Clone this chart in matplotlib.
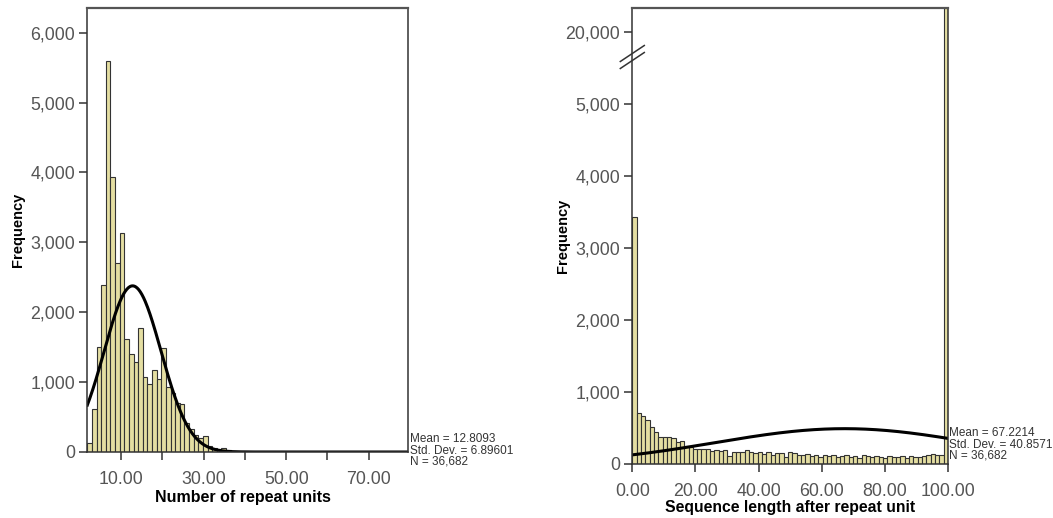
import numpy as np
import matplotlib
matplotlib.use("Agg")
import matplotlib.pyplot as plt
from matplotlib.ticker import FuncFormatter, FixedLocator

# ---------------- data ----------------
# Left histogram: number of repeat units
repeat_bin_start = 1.84
repeat_bin_width = 1.12
repeat_counts = [134, 620, 1500, 2385, 5600, 3930, 2700, 3140, 1610, 1395,
                 1290, 1780, 1075, 970, 1180, 1040, 1495, 930, 840, 700,
                 690, 420, 330, 240, 200, 225, 80, 55, 50, 55,
                 25, 15, 12, 10, 8, 6, 5, 4, 3, 3, 2, 2, 1, 1]
repeat_mean, repeat_sd, repeat_n = 12.8093, 6.89601, 36682
repeat_xlim = (1.84, 79.5)

# Right histogram: sequence length after repeat unit
seq_bins = 73
seq_range = (0.0, 100.0)
seq_counts = [3430, 710, 664, 608, 507, 440, 380, 370, 370, 360,
              300, 320, 250, 240, 210, 215, 215, 205, 185, 195,
              185, 200, 115, 170, 170, 160, 195, 160, 150, 170,
              140, 160, 125, 150, 155, 100, 160, 150, 120, 130,
              140, 110, 125, 100, 130, 105, 120, 95, 115, 120,
              100, 110, 90, 120, 105, 95, 115, 100, 90, 110,
              100, 95, 115, 90, 105, 100, 95, 110, 125, 135,
              130, 120, 22000]
seq_mean, seq_sd, seq_n = 67.2214, 40.8571, 36682

left_yticks = [0, 1000, 2000, 3000, 4000, 5000, 6000]
left_xticks = [10, 20, 30, 40, 50, 60, 70]
left_xticklabels = ["10.00", "", "30.00", "", "50.00", "", "70.00"]
right_yticks = [0, 1000, 2000, 3000, 4000, 5000, 20000]
right_xticks = [0, 20, 40, 60, 80, 100]
right_xticklabels = ["0.00", "20.00", "40.00", "60.00", "80.00", "100.00"]

# ---------------- style ----------------
plt.rcParams["font.family"] = ["Liberation Sans", "DejaVu Sans"]
BAR_FACE = "#e4dea2"
BAR_EDGE = "#333333"
TICK_GREY = "#555555"
W, H = 1053, 518

fig = plt.figure(figsize=(W / 100, H / 100), dpi=100)


def px_axes(x0, x1, ytop, ybot):
    return fig.add_axes([x0 / W, 1 - ybot / H, (x1 - x0) / W, (ybot - ytop) / H])


def normal_curve(x, mean, sd, n, width):
    return n * width / (sd * np.sqrt(2 * np.pi)) * np.exp(-0.5 * ((x - mean) / sd) ** 2)


def style_axes(ax):
    for s in ax.spines.values():
        s.set_color("#333333")
        s.set_linewidth(1.1)
    ax.spines["top"].set_color("#555555")
    ax.spines["top"].set_linewidth(1.6)
    ax.tick_params(axis="both", direction="out", length=5.8, width=1.1,
                   color="#333333", labelcolor=TICK_GREY, labelsize=12.8)
    ax.tick_params(axis="x", pad=8.2)
    ax.tick_params(axis="y", pad=3)
    ax.yaxis.set_major_formatter(FuncFormatter(lambda v, p: f"{int(round(v)):,}"))


# ---------------- left histogram ----------------
ax1 = px_axes(87.3, 408, 8, 452)
edges1 = repeat_bin_start + repeat_bin_width * np.arange(len(repeat_counts))
ax1.bar(edges1, repeat_counts, width=repeat_bin_width, align="edge",
        color=BAR_FACE, edgecolor=BAR_EDGE, linewidth=0.8)
xs1 = np.linspace(*repeat_xlim, 400)
ax1.plot(xs1, normal_curve(xs1, repeat_mean, repeat_sd, repeat_n, repeat_bin_width),
         color="black", lw=2.2)
ax1.set_xlim(*repeat_xlim)
ax1.set_ylim(0, 6352)
ax1.set_yticks(left_yticks)
ax1.set_xticks(left_xticks)
ax1.set_xticklabels(left_xticklabels)
style_axes(ax1)
ax1.set_ylabel("Frequency", fontsize=10.5, fontweight="bold")
ax1.yaxis.set_label_coords(-0.194, 0.5)
ax1.set_xlabel("Number of repeat units", fontsize=11.5, fontweight="bold")
ax1.xaxis.set_label_coords(0.486, -0.0856)

for txt, y in [(f"Mean = {repeat_mean}", 439), (f"Std. Dev. = {repeat_sd}", 451),
               (f"N = {repeat_n:,}", 462)]:
    fig.text(410 / W, 1 - y / H, txt, fontsize=8.5, color="#333333", va="center", ha="left")

# ---------------- right histogram (broken y axis) ----------------
brk_data = [0, 5000, 20000, 22000]
brk_lin = [0, 5000, 6000, 6333]


def fwd(v):
    return np.interp(v, brk_data, brk_lin)


def inv(v):
    return np.interp(v, brk_lin, brk_data)


ax2 = px_axes(632.3, 948, 8, 464)
ax2.set_yscale("function", functions=(fwd, inv))
seq_width = (seq_range[1] - seq_range[0]) / seq_bins
edges2 = seq_range[0] + seq_width * np.arange(seq_bins)
ax2.bar(edges2, seq_counts, width=seq_width, align="edge",
        color=BAR_FACE, edgecolor=BAR_EDGE, linewidth=0.8)
xs2 = np.linspace(*seq_range, 400)
ax2.plot(xs2, normal_curve(xs2, seq_mean, seq_sd, seq_n, seq_width), color="black", lw=2.2)
ax2.set_xlim(*seq_range)
ax2.set_ylim(0, 22000)
ax2.yaxis.set_major_locator(FixedLocator(right_yticks))
ax2.yaxis.set_minor_locator(FixedLocator([]))
ax2.set_xticks(right_xticks)
ax2.set_xticklabels(right_xticklabels)
style_axes(ax2)
ax2.set_ylabel("Frequency", fontsize=10.5, fontweight="bold")
ax2.yaxis.set_label_coords(-0.197, 0.5)
ax2.set_xlabel("Sequence length after repeat unit", fontsize=11.3, fontweight="bold")
ax2.xaxis.set_label_coords(0.5, -0.079)

# break marks on the left spine
brk_y = 1 - (57 - 8) / (464 - 8)
dx, dy = 12 / 316, 8 / 456
for off in (-3.5 / 456, 3.5 / 456):
    ax2.plot([-dx, dx], [brk_y - dy + off, brk_y + dy + off], transform=ax2.transAxes,
             color="#333333", lw=1.1, clip_on=False)

for txt, y in [(f"Mean = {seq_mean}", 433), (f"Std. Dev. = {seq_sd}", 445),
               (f"N = {seq_n:,}", 456)]:
    fig.text(949 / W, 1 - y / H, txt, fontsize=8.5, color="#333333", va="center", ha="left")

fig.savefig("out.png", dpi=100, facecolor="white")
